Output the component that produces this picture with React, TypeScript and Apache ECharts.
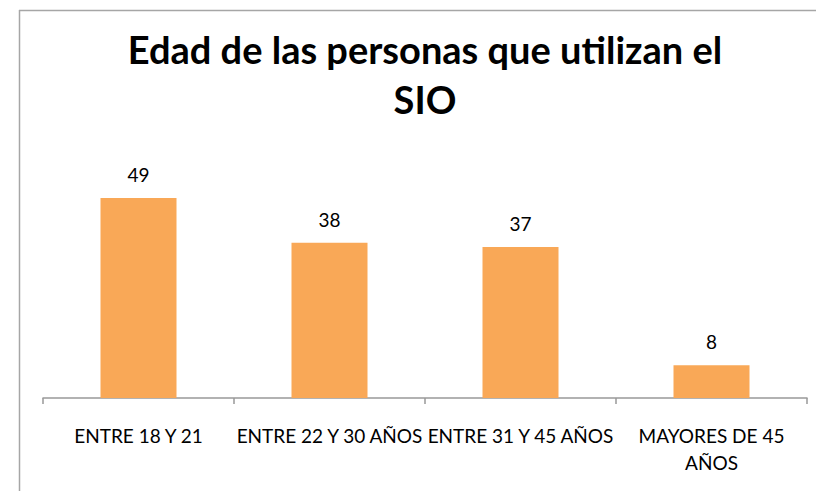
import React, { useEffect, useRef } from "react";
import * as echarts from "echarts";

const categories = ["ENTRE 18 Y 21", "ENTRE 22 Y 30 AÑOS", "ENTRE 31 Y 45 AÑOS", "MAYORES DE 45 AÑOS"];
const values = [49, 38, 37, 8];
const titleLines = ["Edad de las personas que utilizan el", "SIO"];

export default function App() {
  const ref = useRef<HTMLDivElement>(null);
  useEffect(() => {
    if (!ref.current) return;
    const chart = echarts.init(ref.current, null, { renderer: "svg" });
    const font = "Lato, 'Liberation Sans', sans-serif";
    chart.setOption({
      animation: false,
      backgroundColor: "#ffffff",
      graphic: [
        {
          type: "line",
          shape: { x1: 19.5, y1: 491, x2: 19.5, y2: 10 },
          style: { stroke: "#a6a6a6", lineWidth: 1.5 },
          silent: true,
        },
        {
          type: "line",
          shape: { x1: 19, y1: 10.5, x2: 816, y2: 10.5 },
          style: { stroke: "#a6a6a6", lineWidth: 1.5 },
          silent: true,
        },
        {
          type: "text",
          x: 425,
          y: 68,
          style: {
            text: titleLines[0],
            fontFamily: font,
            fontWeight: "bold",
            fontSize: 38,
            fill: "#000000",
            align: "center",
            verticalAlign: "bottom",
          },
        },
        {
          type: "text",
          x: 425,
          y: 118,
          style: {
            text: titleLines[1],
            fontFamily: font,
            fontWeight: "bold",
            fontSize: 38,
            fill: "#000000",
            align: "center",
            verticalAlign: "bottom",
          },
        },
      ],
      grid: { left: 43, right: 9, top: 153, bottom: 93, containLabel: false },
      xAxis: {
        type: "category",
        data: categories,
        axisLine: { lineStyle: { color: "#999999", width: 1.5 } },
        axisTick: { show: true, length: 6, lineStyle: { color: "#999999", width: 1.5 } },
        axisLabel: {
          interval: 0,
          margin: 24,
          fontFamily: font,
          fontSize: 19,
          lineHeight: 27,
          color: "#000000",
          formatter: (v: string) => (v === "MAYORES DE 45 AÑOS" ? "MAYORES DE 45\nAÑOS" : v),
        },
      },
      yAxis: {
        type: "value",
        min: 0,
        max: 60,
        show: false,
        splitLine: { show: false },
      },
      series: [
        {
          type: "bar",
          data: values,
          barWidth: 76,
          itemStyle: { color: "#F9A857" },
          label: {
            show: true,
            position: "top",
            distance: 14,
            fontFamily: font,
            fontSize: 19,
            color: "#000000",
          },
        },
      ],
    });
    return () => chart.dispose();
  }, []);
  return <div ref={ref} style={{ position: "fixed", left: 0, top: 0, width: 816, height: 491 }} />;
}
